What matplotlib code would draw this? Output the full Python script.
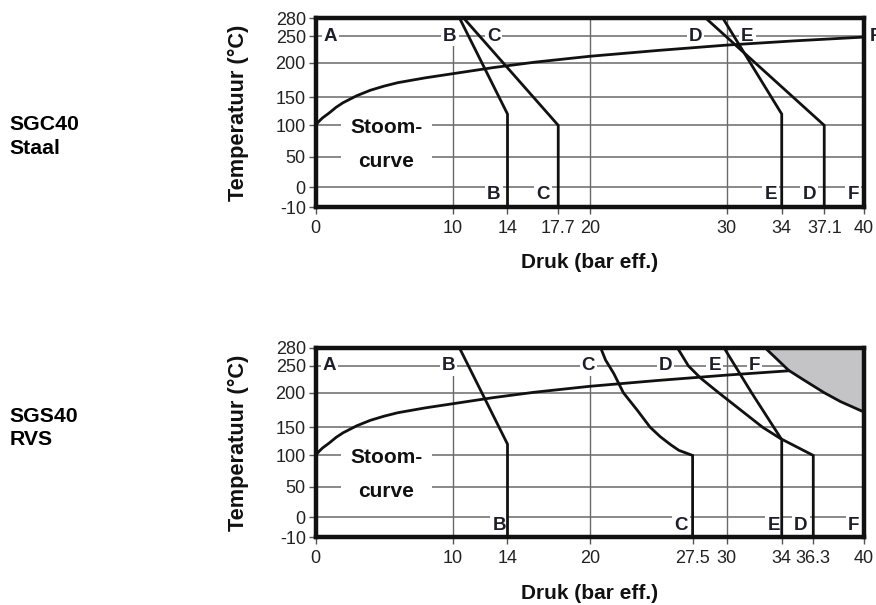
import numpy as np
import matplotlib
matplotlib.use("Agg")
import matplotlib.pyplot as plt

# ---------------- data ----------------
# schematic (non-linear) temperature axis: tick temps and their relative height
y_ticks = [280, 250, 200, 150, 100, 50, 0, -10]
scale_T = [-10, 0, 50, 100, 150, 200, 250, 280]
scale_F = [0.0, 0.106, 0.268, 0.433, 0.582, 0.764, 0.905, 1.0]

# steam saturation curve (bar eff., degC)
steam_p = [0, 0.25, 0.5, 1, 1.5, 2, 3, 4, 5, 6, 8, 10, 13, 16, 20, 25, 30, 35, 40]
steam_T = [100, 107, 113, 122, 132, 140, 152, 160, 166, 171, 178, 184, 193, 201, 212, 223, 233, 241, 248]
steam2_p = [0, 0.25, 0.5, 1, 1.5, 2, 3, 4, 5, 6, 8, 10, 13, 16, 20, 25, 30, 34.5]
steam2_T = [100, 107, 113, 122, 132, 140, 152, 160, 166, 171, 178, 184, 193, 201, 212, 223, 233, 241]

# SGC40 Staal limit curves
top_xticks = [0, 10, 14, 17.7, 20, 30, 34, 37.1, 40]
top_xticklabels = ["0", "10", "14", "17.7", "20", "30", "34", "37.1", "40"]
top_B_p = [10.5, 14, 14];      top_B_T = [280, 120, -10]
top_C_p = [10.8, 17.7, 17.7];  top_C_T = [280, 100, -10]
top_D_p = [28.45, 37.1, 37.1]; top_D_T = [280, 100, -10]
top_E_p = [29.7, 34, 34];      top_E_T = [280, 120, -10]

# SGS40 RVS limit curves
bot_xticks = [0, 10, 14, 20, 27.5, 30, 34, 36.3, 40]
bot_xticklabels = ["0", "10", "14", "20", "27.5", "30", "34", "36.3", "40"]
bot_B_p = [10.5, 14, 14];      bot_B_T = [280, 120, -10]
bot_C_p = [20.8, 21.15, 21.75, 22.45, 23.45, 24.4, 25.15, 25.9, 26.5, 27.5, 27.5]
bot_C_T = [280, 260, 236, 200, 175, 150, 133, 119, 109, 100, -10]
bot_D_p = [26.4, 27.2, 28.1, 29.4, 31.0, 32.6, 33.9, 36.3, 36.3]
bot_D_T = [280, 250, 227, 200, 175, 150, 130, 100, -10]
bot_E_p = [29.8, 31.8, 34, 34]; bot_E_T = [280, 200, 128, -10]
bot_F_p = [32.8, 34.5, 35.6, 37.1, 38.3, 40]
bot_F_T = [280, 242, 224, 200, 187, 172]

# curve letters: (label, pressure) at top (250) and bottom
top_lab_top = [("A", 1.1), ("B", 9.8), ("C", 13.0), ("D", 27.7), ("E", 31.5)]
top_lab_bot = [("B", 13.0), ("C", 16.6), ("E", 33.2), ("D", 36.0), ("F", 39.2)]
bot_lab_top = [("A", 1.0), ("B", 9.7), ("C", 19.9), ("D", 25.5), ("E", 29.1), ("F", 32.0)]
bot_lab_bot = [("B", 13.4), ("C", 26.65), ("E", 33.4), ("D", 35.4), ("F", 39.25)]

# ---------------- style ----------------
FONT = "Liberation Sans"
INK = "#111111"
LAB = "#1d1d2b"
GRID = "#6a6a6a"
LW = 2.0


def fwd(t):
    return np.interp(t, scale_T, scale_F)


def inv(f):
    return np.interp(f, scale_F, scale_T)


fig = plt.figure(figsize=(8.76, 6.05), dpi=100)
ax_top = fig.add_axes([0.3602, 0.6574, 0.6261, 0.3128])
ax_bot = fig.add_axes([0.3602, 0.1116, 0.6261, 0.3132])


def setup(ax, xticks, xticklabels, vgrid, xlab_y):
    ax.set_yscale("function", functions=(fwd, inv))
    ax.set_xlim(0, 40)
    ax.set_ylim(-10, 280)
    ax.set_yticks(y_ticks)
    ax.set_yticklabels([str(v) for v in y_ticks])
    ax.set_xticks(xticks)
    ax.set_xticklabels(xticklabels)
    ax.minorticks_off()
    ax.tick_params(axis="both", length=5, width=1, color="#555555",
                   labelsize=13, labelcolor="#222222")
    ax.tick_params(axis="x", pad=4)
    ax.tick_params(axis="y", pad=2)
    for lab in ax.get_xticklabels() + ax.get_yticklabels():
        lab.set_fontfamily(FONT)
    for s in ax.spines.values():
        s.set_linewidth(3.2)
        s.set_color(INK)
        s.set_zorder(7)
    for t in [250, 200, 150, 100, 50, 0]:
        ax.axhline(t, color=GRID, lw=1.1, zorder=1)
    for x, top in vgrid:
        ax.axvline(x, ymin=0, ymax=top, color=GRID, lw=1.0, zorder=1)
    ax.set_xlabel("Druk (bar eff.)", fontsize=15, fontweight="bold",
                  family=FONT, color=INK)
    ax.xaxis.set_label_coords(0.5, xlab_y)
    ax.xaxis.label.set_va("top")
    ax.set_ylabel("Temperatuur (°C)", fontsize=15.7, fontweight="bold",
                  family=FONT, color=INK)
    ax.yaxis.set_label_coords(-0.121, 0.5)
    ax.text(5.15, 70, "Stoom-\ncurve", ha="center", va="center",
            fontsize=15, fontweight="bold", family=FONT, color=INK,
            linespacing=2.0, zorder=3,
            bbox=dict(boxstyle="square,pad=0.45", fc="white", ec="none"))


def labels(ax, top_list, bot_list):
    for s, p in top_list:
        ax.text(p, 250, s, ha="center", va="center", fontsize=13.5,
                fontweight="bold", family=FONT, color=LAB, zorder=4,
                bbox=dict(boxstyle="square,pad=0.1", fc="white", ec="none"))
    for s, p in bot_list:
        ax.text(p, -3.8, s, ha="center", va="center", fontsize=13.5,
                fontweight="bold", family=FONT, color=LAB, zorder=4,
                bbox=dict(boxstyle="square,pad=0.12", fc="white", ec="none"))


# ---- top chart ----
setup(ax_top, top_xticks, top_xticklabels, [(10, 0.86), (20, 1.0), (30, 1.0)], -0.241)
ax_top.plot(steam_p, steam_T, color=INK, lw=LW, zorder=5, clip_on=False)
for p, t in [(top_B_p, top_B_T), (top_C_p, top_C_T), (top_D_p, top_D_T), (top_E_p, top_E_T)]:
    ax_top.plot(p, t, color=INK, lw=LW, zorder=5, solid_joinstyle="miter")
labels(ax_top, top_lab_top, top_lab_bot)
ax_top.text(40.45, 250, "F", ha="left", va="center", fontsize=13.5, fontweight="bold",
            family=FONT, color=LAB, clip_on=False)

# ---- bottom chart ----
setup(ax_bot, bot_xticks, bot_xticklabels, [(10, 0.86), (20, 0.86), (30, 1.0)], -0.246)
ax_bot.fill_between(bot_F_p + [40], bot_F_T + [172], [280] * (len(bot_F_p) + 1),
                    color="#c4c4c6", lw=0, zorder=2)
ax_bot.plot(steam2_p, steam2_T, color=INK, lw=LW, zorder=5)
for p, t in [(bot_B_p, bot_B_T), (bot_C_p, bot_C_T), (bot_D_p, bot_D_T),
             (bot_E_p, bot_E_T), (bot_F_p, bot_F_T)]:
    ax_bot.plot(p, t, color=INK, lw=LW, zorder=5, solid_joinstyle="miter")
labels(ax_bot, bot_lab_top, bot_lab_bot)

# ---- side titles ----
fig.text(0.0107, 0.7744, "SGC40\nStaal", ha="left", va="center", fontsize=15.3,
         fontweight="bold", family=FONT, color="black", linespacing=1.31)
fig.text(0.0107, 0.2926, "SGS40\nRVS", ha="left", va="center", fontsize=15.3,
         fontweight="bold", family=FONT, color="black", linespacing=1.31)

fig.savefig("out.png", dpi=100)
